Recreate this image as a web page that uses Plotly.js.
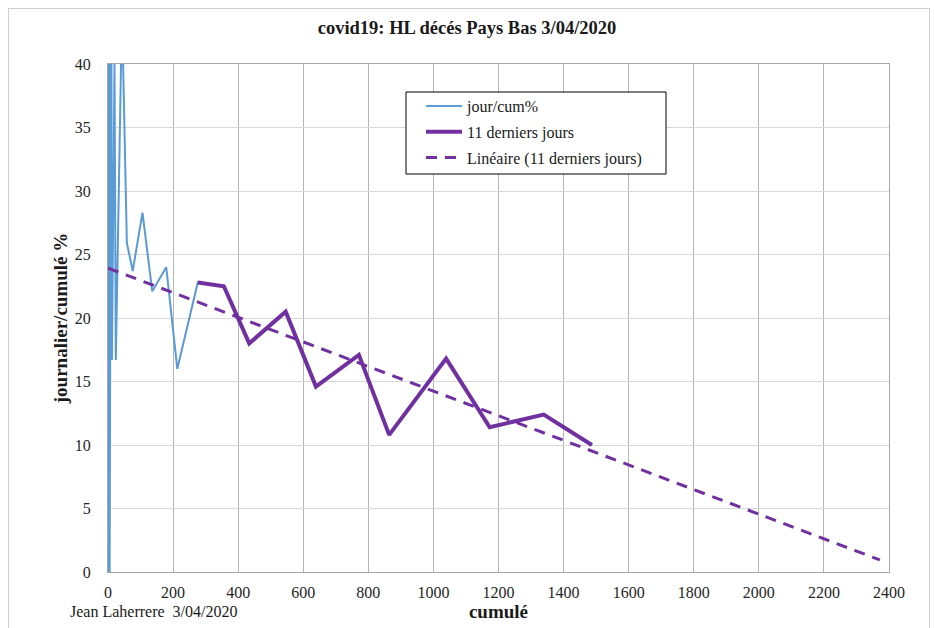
<!DOCTYPE html>
<html>
<head>
<meta charset="utf-8">
<script src="https://cdn.plot.ly/plotly-3.0.1.min.js"></script>
<style>
  html, body { margin: 0; padding: 0; background: #fff; overflow: hidden; }
  #chart { width: 934px; height: 628px; }
  #frame { position: absolute; left: 8px; top: 8px; width: 920px; height: 640px;
           border: 1px solid #d0d0d0; pointer-events: none; }
</style>
</head>
<body>
<div id="chart"></div>
<div id="frame"></div>
<script>
// cumulative deaths (x) and daily/cumulative % (y)
const cumAll = [1, 1, 1, 3, 4, 5, 5, 10, 12, 20, 24, 43, 58, 76, 106, 136, 179, 213,
                276, 356, 434, 546, 639, 771, 864, 1039, 1173, 1339, 1487];
const pctAll = [100, 0, 0, 66.7, 25, 20, 0, 50, 16.7, 40, 16.7, 44.2, 25.9, 23.7, 28.3, 22.1, 24.0, 16.0,
                22.8, 22.5, 18.0, 20.5, 14.6, 17.1, 10.8, 16.8, 11.4, 12.4, 10.0];
// last 11 days
const cum11 = [276, 356, 434, 546, 639, 771, 864, 1039, 1173, 1339, 1487];
const pct11 = [22.8, 22.5, 18.0, 20.5, 14.6, 17.1, 10.8, 16.8, 11.4, 12.4, 10.0];
// linear trend (11 last days) endpoints
const trendX = [0, 2372];
const trendY = [23.93, 0.95];

const xTicks = [0, 200, 400, 600, 800, 1000, 1200, 1400, 1600, 1800, 2000, 2200, 2400];
const yTicks = [0, 5, 10, 15, 20, 25, 30, 35, 40];

const serif = "Liberation Serif, Times New Roman, serif";

// plot-area pixel helpers for layout placement
const L = 108, R = 889, T = 64, B = 572;
const px = v => (v - L) / (R - L);
const py = v => (B - v) / (B - T);

const traces = [
  { x: cumAll, y: pctAll, type: 'scatter', mode: 'lines', name: 'jour/cum%',
    legendgroup: 'a', line: { color: '#5b9bd5', width: 2 } },
  { x: cum11, y: pct11, type: 'scatter', mode: 'lines', name: '11 derniers jours',
    legendgroup: 'b', line: { color: '#7030a0', width: 4 } },
  { x: trendX, y: trendY, type: 'scatter', mode: 'lines', name: 'Linéaire (11 derniers jours)',
    legendgroup: 'c', line: { color: '#7030a0', width: 3, dash: '11px,8px' } }
];

const layout = {
  width: 934, height: 628,
  margin: { l: L, r: 934 - R, t: T, b: 628 - B },
  paper_bgcolor: '#fff', plot_bgcolor: '#fff',
  font: { family: serif, color: '#262626', size: 15 },
  title: { text: '<b>covid19: HL décés Pays Bas 3/04/2020</b>',
           font: { family: serif, size: 18.5, color: '#1a1a1a' },
           x: 0.5, xref: 'container', y: 1 - 28 / 628, yref: 'container', yanchor: 'middle' },
  xaxis: {
    range: [0, 2400], tickvals: xTicks, ticktext: xTicks.map(String),
    showgrid: true, gridcolor: '#b5b5b5', gridwidth: 1,
    showline: true, mirror: true, linecolor: '#a6a6a6', linewidth: 1,
    zeroline: false, ticks: 'outside', ticklen: 6, tickcolor: 'rgba(0,0,0,0)',
    tickfont: { family: serif, size: 16, color: '#262626' },
    title: { text: '<b>cumulé</b>', font: { family: serif, size: 19, color: '#1a1a1a' }, standoff: 2 }
  },
  yaxis: {
    range: [0, 40], tickvals: yTicks, ticktext: yTicks.map(String),
    showgrid: true, gridcolor: '#d9d9d9', gridwidth: 1,
    showline: true, mirror: true, linecolor: '#a6a6a6', linewidth: 1,
    zeroline: false, ticks: 'outside', ticklen: 13, tickcolor: 'rgba(0,0,0,0)',
    tickfont: { family: serif, size: 16, color: '#262626' },
    title: { text: '<b>journalier/cumulé %</b>', font: { family: serif, size: 19, color: '#1a1a1a' }, standoff: 2 }
  },
  showlegend: true,
  legend: {
    x: px(421), y: py(89), xanchor: 'left', yanchor: 'top',
    borderwidth: 0, bgcolor: 'rgba(255,255,255,0)',
    font: { family: serif, size: 16, color: '#1a1a1a' },
    traceorder: 'grouped', tracegroupgap: 2, itemwidth: 36
  },
  shapes: [
    { type: 'rect', xref: 'paper', yref: 'paper', layer: 'above',
      x0: px(406), x1: px(666), y0: py(174), y1: py(92),
      line: { color: '#000', width: 1 }, fillcolor: '#fff' }
  ],
  annotations: [
    { text: 'Jean Laherrere  3/04/2020', xref: 'paper', yref: 'paper',
      x: px(68), y: py(611), xanchor: 'left', yanchor: 'middle',
      showarrow: false, font: { family: serif, size: 16, color: '#1a1a1a' } }
  ]
};

Plotly.newPlot('chart', traces, layout, { staticPlot: true, displayModeBar: false });
</script>
</body>
</html>
